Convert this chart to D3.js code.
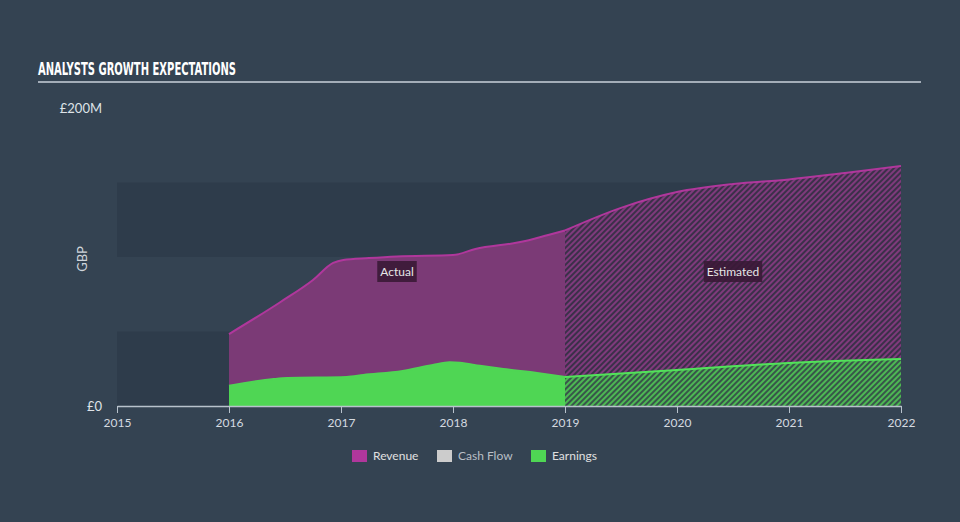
<!DOCTYPE html>
<html>
<head>
<meta charset="utf-8">
<script src="https://cdnjs.cloudflare.com/ajax/libs/d3/7.8.5/d3.min.js"></script>
<style>
  html, body { margin: 0; padding: 0; background: #344352; }
  svg { display: block; }
</style>
</head>
<body>
<svg id="chart" width="960" height="522"></svg>
<script>
// ---- data ----
const xTickYears = [2015, 2016, 2017, 2018, 2019, 2020, 2021, 2022];
const yTickValues = [0, 200];
const yTickLabels = ["£0", "£200M"];

const revenueActualYears  = [2016.0, 2016.46, 2016.75, 2016.93, 2017.02, 2017.25, 2017.5, 2018.0, 2018.2, 2018.6, 2018.85, 2019.0];
const revenueActualValues = [48.3,   69.8,    84.6,    96,      98,      99.3,    100.4,  101.3,  105.4,  110,    114.8,   117.8];
const revenueEstYears     = [2019.0, 2019.5, 2020.0, 2020.5, 2021.0, 2021.5, 2022.0];
const revenueEstValues    = [117.8,  133,    143.6,  149,    152,    156.4,  161];

const earningsActualYears  = [2016.0, 2016.4, 2016.52, 2017.05, 2017.2, 2017.55, 2017.82, 2017.97, 2018.06, 2018.24, 2018.45, 2018.75, 2019.0];
const earningsActualValues = [13.6,   18.1,   18.8,    19.5,    20.8,   23.5,    27.5,    29.3,    29,      27,      24.8,    22.1,    19.5];
const earningsEstYears     = [2019.0, 2020.0, 2021.0, 2022.0];
const earningsEstValues    = [19.5,   24.2,   28.9,   31.5];

const legendNames  = ["Revenue", "Cash Flow", "Earnings"];
const legendColors = ["#b0379c", "#cccccc", "#4fd654"];
const legendText   = ["#e0e0e0", "#b9bfc6", "#e0e0e0"];

// ---- chart ----
const svg = d3.select("#chart");
const x = d3.scaleLinear().domain([2015, 2022]).range([117, 901]);
const y = d3.scaleLinear().domain([0, 200]).range([406, 108]);

const defs = svg.append("defs");
function hatch(id, bg, line) {
  const p = defs.append("pattern").attr("id", id)
    .attr("patternUnits", "userSpaceOnUse").attr("width", 4).attr("height", 4)
    .attr("patternTransform", "rotate(45)");
  p.append("rect").attr("width", 4).attr("height", 4).attr("fill", bg);
  p.append("rect").attr("width", 2).attr("height", 4).attr("fill", line);
}
hatch("hRev", "#3b3049", "#7f3a7c");
hatch("hEarn", "#38554a", "#4db853");

// title
svg.append("text").attr("x", 38).attr("y", 75)
  .attr("font-family", "'DejaVu Sans Condensed', 'DejaVu Sans', sans-serif")
  .attr("font-weight", "bold").attr("font-size", 17).attr("fill", "#ffffff")
  .attr("textLength", 198).attr("lengthAdjust", "spacingAndGlyphs")
  .text("ANALYSTS GROWTH EXPECTATIONS");
svg.append("line").attr("x1", 38).attr("x2", 921).attr("y1", 82).attr("y2", 82)
  .attr("stroke", "#a3adb8").attr("stroke-width", 2);

// background bands
[[0, 50], [100, 150]].forEach(b => {
  svg.append("rect").attr("x", x(2015)).attr("width", x(2022) - x(2015))
    .attr("y", y(b[1])).attr("height", y(b[0]) - y(b[1]))
    .attr("fill", "#2e3c4b");
});

function pts(years, vals) { return years.map((d, i) => [d, vals[i]]); }
const area = d3.area().x(d => x(d[0])).y0(y(0)).y1(d => y(d[1])).curve(d3.curveMonotoneX);
const line = d3.line().x(d => x(d[0])).y(d => y(d[1])).curve(d3.curveMonotoneX);

const revA = pts(revenueActualYears, revenueActualValues);
const revE = pts(revenueEstYears, revenueEstValues);
const earA = pts(earningsActualYears, earningsActualValues);
const earE = pts(earningsEstYears, earningsEstValues);

svg.append("path").attr("d", area(revA)).attr("fill", "#7b3a76");
svg.append("path").attr("d", area(revE)).attr("fill", "url(#hRev)");
svg.append("path").attr("d", line(revA)).attr("fill", "none").attr("stroke", "#b0379c").attr("stroke-width", 2);
svg.append("path").attr("d", line(revE)).attr("fill", "none").attr("stroke", "#b0379c").attr("stroke-width", 2);

svg.append("path").attr("d", area(earA)).attr("fill", "#4fd654");
svg.append("path").attr("d", area(earE)).attr("fill", "url(#hEarn)");
svg.append("path").attr("d", line(earA)).attr("fill", "none").attr("stroke", "#4fd654").attr("stroke-width", 2);
svg.append("path").attr("d", line(earE)).attr("fill", "none").attr("stroke", "#52e25a").attr("stroke-width", 2);

// x axis
const xAxis = svg.append("g").attr("transform", `translate(0,${y(0)})`)
  .call(d3.axisBottom(x).tickValues(xTickYears).tickFormat(d3.format("d")).tickSize(7).tickSizeOuter(0));
xAxis.select(".domain").attr("stroke", "#b8c2cc").attr("stroke-width", 1.5);
xAxis.selectAll(".tick line").attr("stroke", "#b8c2cc");
xAxis.selectAll(".tick text").attr("fill", "#d5dae0").attr("font-size", 12)
  .attr("font-family", "Lato, 'Open Sans', sans-serif").attr("dy", "0.9em");

// y labels
svg.selectAll(".ylab").data(yTickValues).enter().append("text")
  .attr("x", 102).attr("y", d => y(d)).attr("dy", "0.35em").attr("text-anchor", "end")
  .attr("font-family", "Lato, 'Open Sans', sans-serif").attr("font-size", 13).attr("fill", "#dfe3e8")
  .text((d, i) => yTickLabels[i]);
svg.append("text").attr("transform", `translate(87,${(y(0) + y(200)) / 2 + 2}) rotate(-90)`)
  .attr("text-anchor", "middle").attr("font-family", "Lato, 'Open Sans', sans-serif")
  .attr("font-size", 13).attr("fill", "#d0d5db").text("GBP");

// Actual / Estimated labels
function tag(cx, txt) {
  const g = svg.append("g");
  const t = g.append("text").attr("x", cx).attr("y", 272).attr("dy", "0.35em")
    .attr("text-anchor", "middle").attr("font-family", "Lato, 'Open Sans', sans-serif")
    .attr("font-size", 12).attr("fill", "#e6e6e6").text(txt);
  const bb = t.node().getBBox();
  g.insert("rect", "text").attr("x", bb.x - 3).attr("y", 261).attr("width", bb.width + 6).attr("height", 21)
    .attr("fill", "#3a1a36").attr("opacity", 0.9);
}
tag((x(2016) + x(2019)) / 2, "Actual");
tag((x(2019) + x(2022)) / 2, "Estimated");

// legend
const legX = [352, 437, 531];
legendNames.forEach((n, i) => {
  svg.append("rect").attr("x", legX[i]).attr("y", 450).attr("width", 15).attr("height", 12).attr("fill", legendColors[i]);
  svg.append("text").attr("x", legX[i] + 21).attr("y", 456).attr("dy", "0.35em")
    .attr("font-family", "Lato, 'Open Sans', sans-serif").attr("font-size", 12)
    .attr("fill", legendText[i]).text(n);
});
</script>
</body>
</html>
